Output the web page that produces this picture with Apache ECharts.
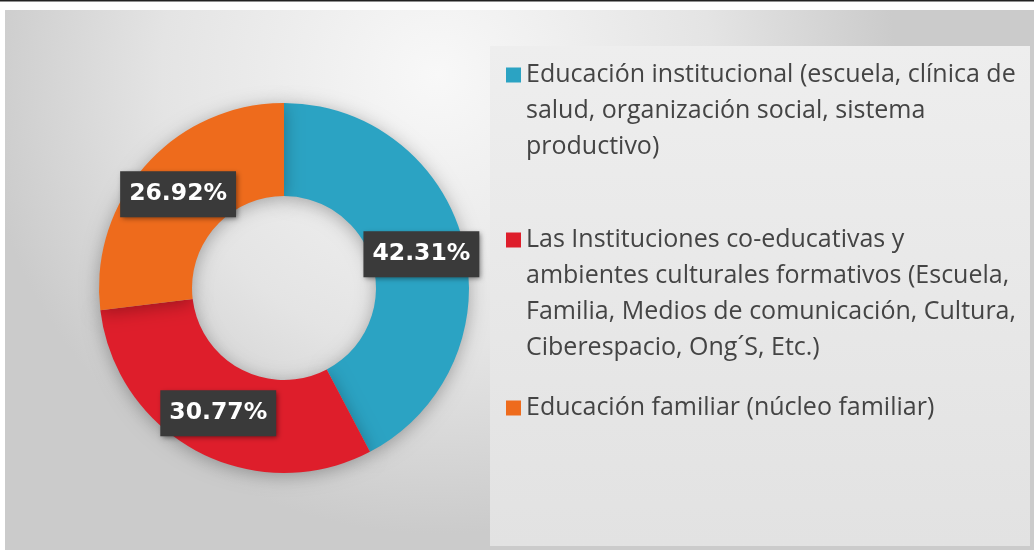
<!DOCTYPE html>
<html>
<head>
<meta charset="utf-8">
<script src="https://cdn.jsdelivr.net/npm/echarts@6/dist/echarts.min.js"></script>
<style>
  html, body { margin: 0; padding: 0; background: #fff; }
  #main { width: 1034px; height: 550px; }
</style>
</head>
<body>
<div id="main"></div>
<script>
// datos del grafico de anillo
var categorias = [
	'Educación institucional (escuela, clínica de salud, organización social, sistema productivo)',
	'Las Instituciones co-educativas y ambientes culturales formativos (Escuela, Familia, Medios de comunicación, Cultura, Ciberespacio, Ong´S, Etc.)',
	'Educación familiar (núcleo familiar)'
];
// lineas de la leyenda, tal como se cortan en la imagen
var lineasLeyenda = [
	['Educación institucional (escuela, clínica de', 'salud, organización social, sistema', 'productivo)'],
	['Las Instituciones co-educativas y', 'ambientes culturales formativos (Escuela,', 'Familia, Medios de comunicación, Cultura,', 'Ciberespacio, Ong´S, Etc.)'],
	['Educación familiar (núcleo familiar)']
];
var valores = [11, 8, 7];
var colores = ['#2ba3c3', '#de1e2b', '#ee6b1c'];
// centro vertical del cuadrito de cada leyenda
var leyendaY = [75, 240, 408];

var chart = echarts.init(document.getElementById('main'));

var alto = 36;   // alto de linea
var cuadro = 15;

var dataArr = new Array();
for (var i = 0; i < valores.length; i++) {
	dataArr.push({ value: valores[i], name: categorias[i], itemStyle: { color: colores[i] } });
}

// una leyenda por elemento; el texto se centra en el cuadrito,
// asi que se anteponen lineas vacias para que la primera quede a su altura
var leyendas = new Array();
for (var i = 0; i < categorias.length; i++) {
	var n = lineasLeyenda[i].length;
	var vacias = new Array(n).join('\n');
	leyendas.push({
		data: [categorias[i]],
		orient: 'vertical',
		left: 506,
		top: leyendaY[i] - (2 * n - 1) * alto / 2,
		padding: 0,
		itemWidth: cuadro,
		itemHeight: cuadro,
		icon: 'rect',
		selectedMode: false,
		formatter: (function (txt) {
			return function () { return txt; };
		})(vacias + lineasLeyenda[i].join('\n')),
		textStyle: {
			fontFamily: 'Open Sans',
			fontSize: 25,
			color: '#444',
			lineHeight: alto
		}
	});
}

var option = {
	animation: false,
	graphic: [
		{
			type: 'rect', z: -10, silent: true,
			shape: { x: 0, y: 0, width: 1034, height: 1.5 },
			style: { fill: '#222' }
		},
		{
			type: 'rect', z: -10, silent: true,
			shape: { x: 5, y: 10, width: 1029, height: 540 },
			style: {
				fill: new echarts.graphic.RadialGradient(0.42, 0.12, 0.85, [
					{ offset: 0, color: '#f8f8f8' },
					{ offset: 0.6, color: '#e4e4e4' },
					{ offset: 1, color: '#cbcbcb' }
				])
			}
		},
		{
			type: 'rect', z: -9, silent: true,
			shape: { x: 490, y: 46, width: 540, height: 500 },
			style: {
				fill: new echarts.graphic.LinearGradient(0, 0, 0, 1, [
					{ offset: 0, color: '#eeeeee' },
					{ offset: 1, color: '#e2e2e2' }
				])
			}
		}
	],
	legend: leyendas,
	series: [
		{
			name: '',
			type: 'pie',
			center: [284, 288],
			radius: [92, 185],
			startAngle: 90,
			clockwise: true,
			data: dataArr,
			itemStyle: {
				shadowBlur: 18,
				shadowColor: 'rgba(0, 0, 0, 0.3)',
				shadowOffsetY: 3
			},
			label: {
				show: true,
				position: 'inside',
				formatter: function (p) { return p.percent.toFixed(2) + '%'; },
				fontFamily: 'DejaVu Sans',
				fontWeight: 'bold',
				fontSize: 23.5,
				lineHeight: 26,
				color: '#fff',
				backgroundColor: '#3a3a3a',
				padding: [10, 9, 10, 9],
				shadowBlur: 5,
				shadowColor: 'rgba(0, 0, 0, 0.45)',
				shadowOffsetX: 2,
				shadowOffsetY: 2
			},
			labelLine: { show: false },
			emphasis: { disabled: true }
		}
	]
};

chart.setOption(option);
</script>
</body>
</html>
